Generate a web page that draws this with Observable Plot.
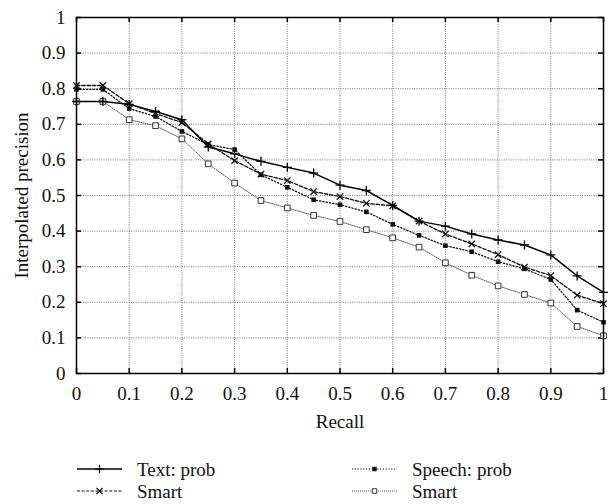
<!DOCTYPE html>
<html>
<head>
<meta charset="utf-8">
<script src="https://cdn.jsdelivr.net/npm/d3@7"></script>
<script src="https://cdn.jsdelivr.net/npm/@observablehq/plot@0.6"></script>
<style>
  body { margin: 0; background: white; font-family: "Liberation Serif", "Times New Roman", "DejaVu Serif", serif; }
  #wrap { position: relative; width: 616px; height: 504px; overflow: hidden; }
  #chart svg, #legend svg { display: block; }
</style>
</head>
<body>
<div id="wrap"><div id="chart"></div><div id="legend"></div></div>
<script>
const recall = [0, 0.05, 0.1, 0.15, 0.2, 0.25, 0.3, 0.35, 0.4, 0.45, 0.5, 0.55, 0.6, 0.65, 0.7, 0.75, 0.8, 0.85, 0.9, 0.95, 1];
const textProb    = [0.764, 0.764, 0.756, 0.736, 0.713, 0.636, 0.617, 0.596, 0.579, 0.563, 0.529, 0.514, 0.472, 0.428, 0.414, 0.392, 0.375, 0.361, 0.333, 0.274, 0.228];
const textSmart   = [0.809, 0.809, 0.758, 0.730, 0.705, 0.645, 0.598, 0.560, 0.542, 0.511, 0.497, 0.478, 0.471, 0.428, 0.392, 0.364, 0.334, 0.299, 0.275, 0.220, 0.196];
const speechProb  = [0.798, 0.798, 0.744, 0.722, 0.680, 0.643, 0.629, 0.558, 0.523, 0.488, 0.474, 0.454, 0.419, 0.388, 0.359, 0.342, 0.314, 0.294, 0.264, 0.178, 0.144];
const speechSmart = [0.764, 0.764, 0.713, 0.696, 0.659, 0.589, 0.535, 0.486, 0.465, 0.444, 0.427, 0.404, 0.381, 0.355, 0.311, 0.276, 0.246, 0.222, 0.198, 0.132, 0.106];
const xTicks = [0, 0.1, 0.2, 0.3, 0.4, 0.5, 0.6, 0.7, 0.8, 0.9, 1];
const yTicks = [0, 0.1, 0.2, 0.3, 0.4, 0.5, 0.6, 0.7, 0.8, 0.9, 1];
const seriesNames = ["Text: prob", "Smart", "Speech: prob", "Smart"];

const FONT = "'Liberation Serif', 'Times New Roman', 'DejaVu Serif', serif";
const rows = (vals) => recall.map((r, i) => ({recall: r, precision: vals[i]}));
const sTextProb = rows(textProb), sTextSmart = rows(textSmart), sSpeechProb = rows(speechProb), sSpeechSmart = rows(speechSmart);

const W = 616, H = 440, mL = 76, mR = 13, mT = 17, mB = 67;
const pw = W - mL - mR, ph = H - mT - mB, tk = 5;

const chart = Plot.plot({
  width: W, height: H,
  marginLeft: mL, marginRight: mR, marginTop: mT, marginBottom: mB,
  style: {fontFamily: FONT, fontSize: "19px", background: "white", color: "#111"},
  x: {domain: [0, 1]},
  y: {domain: [0, 1]},
  marks: [
    Plot.gridX(xTicks, {stroke: "#777", strokeOpacity: 1, strokeDasharray: "1,1.3"}),
    Plot.gridY(yTicks, {stroke: "#777", strokeOpacity: 1, strokeDasharray: "1,1.3"}),
    Plot.tickX(xTicks, {x: d => d, stroke: "#000", strokeWidth: 1.5, insetTop: ph - tk}),
    Plot.tickX(xTicks, {x: d => d, stroke: "#000", strokeWidth: 1.5, insetBottom: ph - tk}),
    Plot.tickY(yTicks, {y: d => d, stroke: "#000", strokeWidth: 1.5, insetRight: pw - tk}),
    Plot.tickY(yTicks, {y: d => d, stroke: "#000", strokeWidth: 1.5, insetLeft: pw - tk}),
    Plot.axisX(xTicks, {tickSize: 0, tickPadding: 13, tickFormat: d => String(d), label: "Recall", labelAnchor: "center", labelOffset: 54, labelArrow: "none", fontSize: 19, fontFamily: FONT}),
    Plot.axisY(yTicks, {tickSize: 0, tickPadding: 11, tickFormat: d => String(d), label: "Interpolated precision", labelAnchor: "center", labelOffset: 62, labelArrow: "none", fontSize: 19, fontFamily: FONT}),
    // Speech smart
    Plot.line(sSpeechSmart, {x: "recall", y: "precision", stroke: "#555", strokeWidth: 1, strokeDasharray: "1,1.2"}),
    Plot.dot(sSpeechSmart, {x: "recall", y: "precision", symbol: "square", r: 3.2, stroke: "#333", fill: "white", strokeWidth: 1}),
    // Speech prob
    Plot.line(sSpeechProb, {x: "recall", y: "precision", stroke: "#111", strokeWidth: 1.3, strokeDasharray: "1.3,2"}),
    Plot.dot(sSpeechProb, {x: "recall", y: "precision", symbol: "square", r: 2.6, fill: "#111", stroke: "none"}),
    // Text smart
    Plot.line(sTextSmart, {x: "recall", y: "precision", stroke: "#111", strokeWidth: 1.3, strokeDasharray: "3.5,1.8"}),
    Plot.dot(sTextSmart, {x: "recall", y: "precision", symbol: "times", r: 3, stroke: "#111", strokeWidth: 1.3}),
    // Text prob
    Plot.line(sTextProb, {x: "recall", y: "precision", stroke: "#000", strokeWidth: 1.5}),
    Plot.dot(sTextProb, {x: "recall", y: "precision", symbol: "plus", r: 3, stroke: "#000", strokeWidth: 1.3}),
    Plot.frame({stroke: "#000", strokeWidth: 1.5})
  ]
});
document.getElementById("chart").appendChild(chart);

// Legend (below the plot SVG)
const legendSpecs = [
  {name: seriesNames[0], x: 77,  row: 0, dash: null,      width: 1.5, color: "#000", marker: "plus"},
  {name: seriesNames[1], x: 77,  row: 1, dash: "3,1.6",   width: 1.1, color: "#111", marker: "times"},
  {name: seriesNames[2], x: 352, row: 0, dash: "1.2,1.6", width: 1.1, color: "#111", marker: "fsquare"},
  {name: seriesNames[3], x: 352, row: 1, dash: "1,1",     width: 1,   color: "#555", marker: "osquare"}
];
const lsvg = d3.select("#legend").append("svg").attr("width", W).attr("height", 504 - H)
  .style("font-family", FONT).style("font-size", "19px");
for (const s of legendSpecs) {
  const ly = 29 + s.row * 22;
  const g = lsvg.append("g");
  g.append("line").attr("x1", s.x).attr("x2", s.x + 45).attr("y1", ly).attr("y2", ly)
    .attr("stroke", s.color).attr("stroke-width", s.width).attr("stroke-dasharray", s.dash);
  const sym = {plus: d3.symbolPlus, times: d3.symbolTimes, fsquare: d3.symbolSquare, osquare: d3.symbolSquare2}[s.marker];
  const path = g.append("path").attr("transform", `translate(${s.x + 22.5},${ly})`)
    .attr("d", d3.symbol(sym, s.marker === "fsquare" ? 20 : 26)());
  if (s.marker === "fsquare") path.attr("fill", "#111");
  else if (s.marker === "osquare") path.attr("fill", "white").attr("stroke", "#333");
  else path.attr("fill", "none").attr("stroke", "#000").attr("stroke-width", 1.2);
  g.append("text").attr("x", s.x + 60).attr("y", ly + 7).attr("fill", "#111").text(s.name);
}
</script>
</body>
</html>
